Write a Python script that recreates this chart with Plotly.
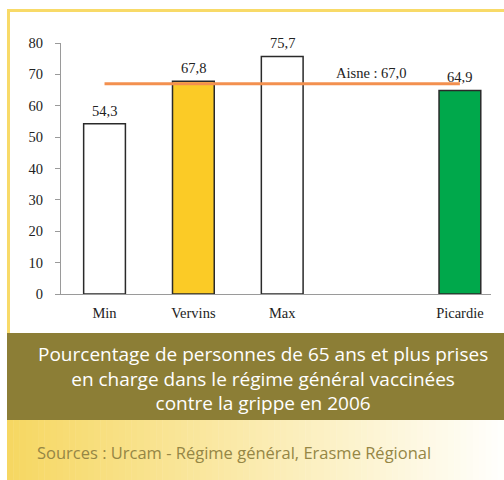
import plotly.graph_objects as go

# ---- data ----
categories = ["Min", "Vervins", "Max", " ", "Picardie"]
values = [54.3, 67.8, 75.7, None, 64.9]
bar_colors = ["#FFFFFF", "#FBCB26", "#FFFFFF", "#FFFFFF", "#00A84B"]
ref_label = "Aisne"
ref_value = 67.0
y_ticks = [0, 10, 20, 30, 40, 50, 60, 70, 80]
title_lines = ["Pourcentage de personnes de 65 ans et plus prises",
               "en charge dans le régime général vaccinées",
               "contre la grippe en 2006"]
source_text = "Sources : Urcam - Régime général, Erasme Régional"

W, H = 504, 480
SERIF = "Liberation Serif"
def px(x):
    return x / W
def py(y):
    return (H - y) / H
def fr(v):
    return f"{v:.1f}".replace(".", ",")

fig = go.Figure()
fig.add_trace(go.Bar(
    x=categories, y=values,
    marker=dict(color=bar_colors, line=dict(color="#2a2a2a", width=1.5)),
    width=0.47,
    showlegend=False, hoverinfo="skip",
))
fig.add_trace(go.Scatter(
    x=[categories[0], categories[-1]], y=[ref_value, ref_value],
    mode="lines", line=dict(color="#F3904F", width=3),
    showlegend=False, hoverinfo="skip", cliponaxis=False,
))

shapes = []
# gradient band
n = 80
x0, x1 = 7, W
for i in range(n):
    t = i / (n - 1)
    r = round(246 + (255 - 246) * t)
    g = round(215 + (255 - 215) * t)
    b = round(98 + (252 - 98) * t)
    xa = x0 + (x1 - x0) * i / n
    xb = x0 + (x1 - x0) * (i + 1) / n + 0.5
    shapes.append(dict(type="rect", xref="paper", yref="paper",
                       x0=px(xa), x1=px(xb), y0=py(480), y1=py(420),
                       fillcolor=f"rgb({r},{g},{b})", line=dict(width=0), layer="below"))
# olive band
shapes.append(dict(type="rect", xref="paper", yref="paper",
                   x0=px(7), x1=px(W), y0=py(420), y1=py(333),
                   fillcolor="#8C7E36", line=dict(width=0), layer="below"))
# yellow frame
shapes.append(dict(type="line", xref="paper", yref="paper",
                   x0=px(7), x1=px(W), y0=py(10.5), y1=py(10.5),
                   line=dict(color="#F8DA68", width=3)))
shapes.append(dict(type="line", xref="paper", yref="paper",
                   x0=px(8.5), x1=px(8.5), y0=py(9), y1=py(333),
                   line=dict(color="#F8DA68", width=3)))

annotations = []
for c, v in zip(categories, values):
    if v is None:
        continue
    annotations.append(dict(x=c, y=v, xref="x", yref="y", text=fr(v),
                            showarrow=False, yanchor="bottom", yshift=3,
                            font=dict(family=SERIF, size=14.5, color="#222")))
annotations += [
    dict(x=categories[3], y=ref_value, xref="x", yref="y",
         text=f"{ref_label} : {fr(ref_value)}",
         showarrow=False, yanchor="bottom", yshift=1,
         font=dict(family=SERIF, size=14.5, color="#222")),
    dict(x=px(263), y=py(378), xref="paper", yref="paper",
         text="<br>".join(title_lines), showarrow=False,
         xanchor="center", yanchor="middle", align="center",
         font=dict(family="Open Sans", size=19, color="#FFFFFF")),
    dict(x=px(35), y=py(452), xref="paper", yref="paper",
         text=source_text, showarrow=False, xanchor="left", yanchor="middle",
         font=dict(family="Open Sans", size=16.5, color="#958645")),
]

fig.update_layout(
    width=W, height=H, autosize=False,
    margin=dict(l=0, r=0, t=0, b=0, pad=0),
    paper_bgcolor="#FFFFFF", plot_bgcolor="#FFFFFF",
    shapes=shapes, annotations=annotations,
    xaxis=dict(domain=[px(61), px(491)], range=[-0.49, 4.35],
               automargin=False,
               showline=True, linecolor="#9a9a9a", linewidth=1,
               showgrid=False, zeroline=False, ticks="",
               tickfont=dict(family=SERIF, size=14.5, color="#222"),
               ticklabelstandoff=6, fixedrange=True),
    yaxis=dict(domain=[py(294), py(43)], range=[0, 80],
               automargin=False,
               tickvals=y_ticks,
               showline=True, linecolor="#9a9a9a", linewidth=1,
               ticks="outside", ticklen=5, tickcolor="#9a9a9a",
               showgrid=False, zeroline=False,
               tickfont=dict(family=SERIF, size=14.5, color="#222"),
               ticklabelstandoff=9, fixedrange=True),
)

fig.write_html("out.html", config={"staticPlot": True},
               post_script="document.documentElement.style.margin='0';document.body.style.margin='0';document.body.style.overflow='hidden';")
